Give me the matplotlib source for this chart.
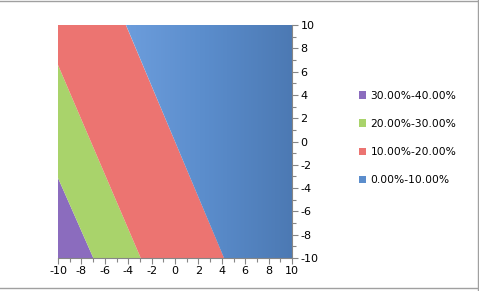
import numpy as np
import matplotlib.pyplot as plt
from matplotlib.patches import Polygon, Patch
from matplotlib.colors import LinearSegmentedColormap

# band edges: (x, y) where each contour line meets the plot border
edge10=[(-4.2, 10), (4.2, -10)]		# 0-10% / 10-20%
edge20=[(-10, 6.57), (-2.93, -10)]		# 10-20% / 20-30%
edge30=[(-10, -3.13), (-6.98, -10)]	# 20-30% / 30-40%

labels=["30.00%-40.00%", "20.00%-30.00%", "10.00%-20.00%", "0.00%-10.00%"]
colors=["#8b6cbe", "#a9d36b", "#ec7471", "#5b8dcc"]

lo, hi=-10, 10

def main():
	plt.rcParams["axes.unicode_minus"]=False
	fig=plt.figure(figsize=(4.79, 2.91), dpi=100)
	ax=fig.add_axes([58/479, 1-258/291, 234/479, 233/291])

	purple=[(lo, lo), edge30[0], edge30[1]]
	green=[edge30[0], edge20[0], edge20[1], edge30[1]]
	red=[edge20[0], (lo, hi), edge10[0], edge10[1], edge20[1]]
	blue=[edge10[0], (hi, hi), (hi, lo), edge10[1]]

	for poly, c in zip([purple, green, red], colors[:3]):
		ax.add_patch(Polygon(poly, closed=True, facecolor=c, edgecolor="none"))

	# blue gets a light-to-dark shading like the Excel surface
	clip=Polygon(blue, closed=True, facecolor="none", edgecolor="none")
	ax.add_patch(clip)
	grad=np.linspace(0, 1, 256).reshape(1, -1)
	cmap=LinearSegmentedColormap.from_list("b", ["#6c9ddc", "#5a8ccb", "#4c79b3"])
	im=ax.imshow(grad, extent=[edge10[0][0], hi, lo, hi], aspect="auto", cmap=cmap, zorder=1)
	im.set_clip_path(clip)

	ax.set_xlim(lo, hi)
	ax.set_ylim(lo, hi)
	ax.set_xticks(np.arange(-10, 11, 2))
	ax.set_yticks(np.arange(-10, 11, 2))
	ax.set_xticks(np.arange(-10, 11, 1), minor=True)
	ax.set_yticks(np.arange(-10, 11, 1), minor=True)
	ax.yaxis.tick_right()
	for s in ["left", "top"]:
		ax.spines[s].set_visible(False)
	for s in ["right", "bottom"]:
		ax.spines[s].set_color("#868686")
	ax.tick_params(which="both", colors="#868686", labelcolor="black", labelsize=8, width=0.8)
	ax.tick_params(which="major", length=4, pad=2)
	ax.tick_params(which="minor", length=3)

	handles=[Patch(facecolor=c, edgecolor="none") for c in colors]
	fig.legend(handles, labels, loc="center left", bbox_to_anchor=(349/479, 1-138/291),
		frameon=False, fontsize=7.7, handlelength=0.7, handleheight=0.7,
		handletextpad=0.4, labelspacing=1.7)

	# chart border
	for xs, ys in [([0, 1], [0.998, 0.998]), ([0.997, 0.997], [0, 1]), ([0, 1], [1-288/291, 1-288/291])]:
		fig.add_artist(plt.Line2D(xs, ys, color="#a0a0a0", lw=1))

	plt.savefig("out.png", dpi=100)
	plt.close()

if __name__=="__main__":
	main()
